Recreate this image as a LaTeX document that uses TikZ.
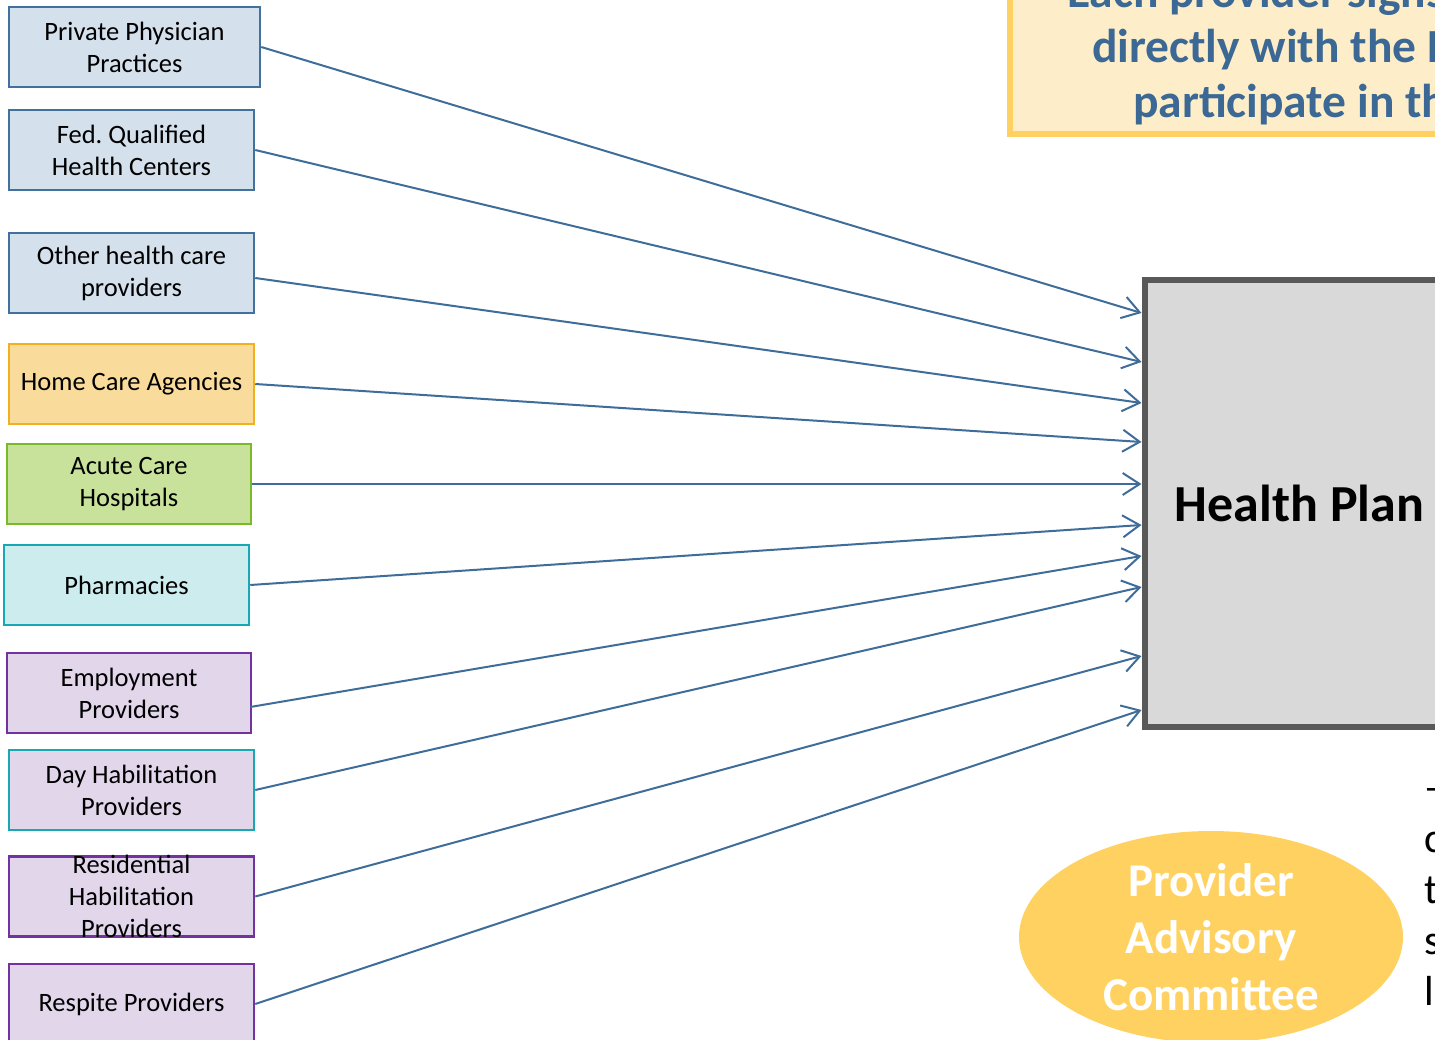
\documentclass[tikz,border=0pt]{standalone}
\usepackage{fontspec}
\setmainfont{Carlito}
\usetikzlibrary{positioning,arrows.meta,shapes.geometric}
\frenchspacing

\definecolor{arrowblue}{HTML}{3F6D9A}
\definecolor{medfill}{HTML}{D4E0EC}
\definecolor{medline}{HTML}{41719C}
\definecolor{homefill}{HTML}{F9DC9B}
\definecolor{homeline}{HTML}{F0B020}
\definecolor{hospfill}{HTML}{C9E29B}
\definecolor{hospline}{HTML}{7AB929}
\definecolor{pharmfill}{HTML}{CCECEE}
\definecolor{tealline}{HTML}{17A8B4}
\definecolor{ddsfill}{HTML}{E2D6EB}
\definecolor{ddsline}{HTML}{7232A0}
\definecolor{planfill}{HTML}{D9D9D9}
\definecolor{planline}{HTML}{595959}
\definecolor{gold}{HTML}{FFD161}
\definecolor{cream}{HTML}{FDEEC9}
\definecolor{notetext}{HTML}{3B6895}

\begin{document}
\begin{tikzpicture}
	[x=1pt,y=-1pt,
	 prov/.style={rectangle,draw,line width=2.5pt,minimum width=245pt,minimum height=80pt,
	   inner sep=0pt,align=center,font=\fontsize{26.5}{32}\selectfont},
	 medbox/.style={fill=medfill,draw=medline},
	 homebox/.style={fill=homefill,draw=homeline},
	 hospbox/.style={fill=hospfill,draw=hospline},
	 pharmbox/.style={fill=pharmfill,draw=tealline},
	 ddsbox/.style={fill=ddsfill,draw=ddsline},
	 plan/.style={rectangle,draw=planline,fill=planfill,line width=6pt,minimum width=310pt,
	   minimum height=447pt,font=\fontsize{52}{62}\selectfont\bfseries},
	 pac/.style={ellipse,fill=gold,minimum width=384pt,minimum height=212pt,inner sep=0pt,
	   text=white,align=center,font=\fontsize{47}{57}\selectfont\bfseries},
	 note/.style={anchor=base west,inner sep=0pt,text=notetext,font=\fontsize{47.5}{55}\selectfont\bfseries},
	 side/.style={anchor=base west,inner sep=0pt,font=\fontsize{42}{51}\selectfont},
	 conn/.style={draw=arrowblue,line width=2pt,-{Straight Barb[length=17pt,width=22pt]}}]
	\useasboundingbox (0,0) rectangle (1435,1040);
	\clip (0,0) rectangle (1435,1040);

	% contract box along the top
	\draw[line width=6pt,draw=gold,fill=cream] (1010,-60) rectangle (1490,134);
	\foreach \x/\y/\txt [count=\i] in {1067/8/Each provider signs a,
	                                   1092/63/directly with the Health,
	                                   1133/118/participate in the}
		\node[note] (note\i) at (\x,\y) {\txt};

	% providers
	\node[prov,medbox,minimum width=251pt] (ppp)  at (134.5,47)  {Private Physician\\Practices};
	\node[prov,medbox]   (fqhc)    at (131.5,150) {Fed. Qualified\\Health Centers};
	\node[prov,medbox]   (other)   at (131.5,273) {Other health care\\providers};
	\node[prov,homebox]  (home)    at (131.5,384) {Home Care Agencies};
	\node[prov,hospbox,minimum width=244pt] (acute) at (129,484) {Acute Care\\Hospitals};
	\node[prov,pharmbox] (pharm)   at (126.5,585) {Pharmacies};
	\node[prov,ddsbox,minimum width=244pt] (employ) at (129,693) {Employment\\Providers};
	\node[prov,ddsbox,draw=tealline] (dayhab) at (131.5,790) {Day Habilitation\\Providers};
	\node[prov,ddsbox,label={[align=center,inner sep=0pt,font=\fontsize{26.5}{32}\selectfont]center:{Residential\\Habilitation\\Providers}}]
	                     (reshab)  at (131.5,896.5) {};
	\node[prov,ddsbox]   (respite) at (131.5,1004) {Respite Providers};

	% plan
	\node[plan] (hp) at (1299.5,503.5) {Health Plan};

	\draw[conn] (ppp.east)     -- (hp.west |- 0,313);
	\draw[conn] (fqhc.east)    -- (hp.west |- 0,362);
	\draw[conn] ([yshift=-5pt]other.east) -- (hp.west |- 0,403);
	\draw[conn] (home.east)    -- (hp.west |- 0,442);
	\draw[conn] (acute.east)   -- (hp.west |- 0,484);
	\draw[conn] (pharm.east)   -- (hp.west |- 0,525);
	\draw[conn] ([xshift=-2pt,yshift=-14pt]employ.east) -- (hp.west |- 0,556);
	\draw[conn] (dayhab.east)  -- (hp.west |- 0,587);
	\draw[conn] (reshab.east)  -- (hp.west |- 0,656);
	\draw[conn] (respite.east) -- (hp.west |- 0,710);

	\node[pac] (pac) at (1211,937) {Provider\\Advisory\\Committee};

	% text beside the committee
	\foreach \ch [count=\i] in {–,c,t,s,{l,}}
		\node[side] (side\i) at (1424,750+51*\i) {\ch};
\end{tikzpicture}
\end{document}
